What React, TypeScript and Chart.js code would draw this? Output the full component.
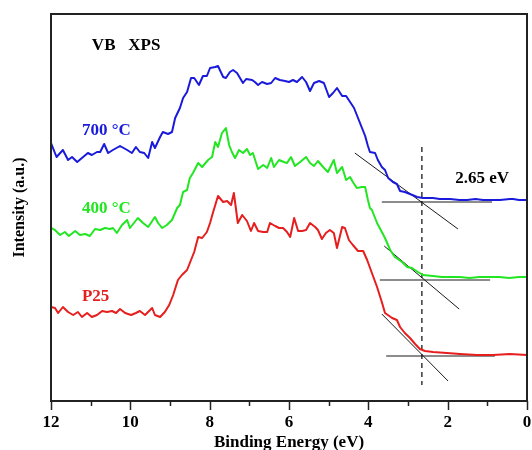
import React, { useEffect, useRef } from "react";
import { Chart, registerables } from "chart.js";

Chart.register(...registerables);

// ---- data (binding energy in eV, intensity in a.u.) ----
const energy700 = [12.0, 11.86, 11.7, 11.57, 11.47, 11.34, 11.22, 11.07, 10.97, 10.84, 10.76, 10.66, 10.56, 10.44, 10.26, 10.08, 9.96, 9.86, 9.76, 9.65, 9.55, 9.45, 9.38, 9.25, 9.18, 9.05, 8.95, 8.87, 8.75, 8.67, 8.57, 8.47, 8.39, 8.27, 8.17, 8.07, 7.99, 7.86, 7.79, 7.66, 7.59, 7.49, 7.41, 7.31, 7.16, 7.08, 6.93, 6.86, 6.78, 6.68, 6.55, 6.45, 6.35, 6.23, 6.1, 6.0, 5.9, 5.8, 5.67, 5.57, 5.47, 5.37, 5.24, 5.12, 4.99, 4.89, 4.79, 4.66, 4.56, 4.46, 4.36, 4.26, 4.16, 4.08, 4.01, 3.96, 3.83, 3.76, 3.66, 3.58, 3.5, 3.38, 3.28, 3.2, 3.08, 2.95, 2.77, 2.62, 2.37, 2.2, 1.94, 1.7, 1.51, 1.3, 1.11, 0.9, 0.68, 0.43, 0.35, 0.2, 0.0];
const intensity700 = [258, 244, 251, 241, 244, 239, 243, 248, 246, 249, 249, 257, 248, 251, 255, 251, 248, 254, 249, 248, 243, 259, 253, 264, 269, 267, 269, 283, 293, 303, 309, 323, 323, 316, 325, 325, 333, 334, 335, 324, 323, 329, 331, 328, 318, 322, 321, 319, 316, 319, 317, 318, 323, 321, 320, 319, 321, 319, 324, 319, 310, 318, 320, 318, 304, 308, 313, 305, 305, 299, 293, 283, 273, 265, 255, 249, 248, 241, 234, 231, 223, 219, 217, 210, 209, 207, 204, 203, 203, 202, 202, 201, 201, 202, 201, 201, 201, 202, 202, 201, 201];

const energy400 = [12.0, 11.9, 11.77, 11.65, 11.55, 11.39, 11.27, 11.14, 11.02, 10.89, 10.76, 10.64, 10.51, 10.44, 10.34, 10.21, 10.08, 10.01, 9.91, 9.81, 9.68, 9.55, 9.38, 9.3, 9.2, 9.08, 8.95, 8.82, 8.75, 8.67, 8.57, 8.5, 8.42, 8.29, 8.19, 8.04, 7.94, 7.86, 7.79, 7.69, 7.59, 7.51, 7.44, 7.36, 7.26, 7.16, 7.06, 6.98, 6.91, 6.78, 6.65, 6.55, 6.45, 6.38, 6.25, 6.13, 6.05, 5.95, 5.85, 5.72, 5.57, 5.47, 5.37, 5.27, 5.14, 5.02, 4.87, 4.79, 4.66, 4.56, 4.46, 4.39, 4.29, 4.16, 4.08, 4.01, 3.96, 3.91, 3.78, 3.66, 3.58, 3.45, 3.33, 3.15, 3.02, 2.9, 2.75, 2.62, 2.37, 2.15, 1.94, 1.7, 1.45, 1.2, 0.95, 0.7, 0.45, 0.2, 0.0];
const intensity400 = [173, 171, 166, 169, 165, 170, 166, 167, 165, 172, 171, 173, 172, 173, 168, 176, 181, 173, 178, 183, 178, 174, 184, 178, 173, 176, 181, 193, 196, 209, 211, 223, 228, 238, 234, 241, 244, 259, 254, 268, 273, 256, 249, 243, 251, 248, 252, 246, 248, 232, 236, 233, 243, 234, 241, 239, 238, 244, 235, 239, 244, 238, 235, 240, 234, 229, 241, 228, 234, 221, 224, 219, 213, 214, 214, 201, 193, 191, 178, 169, 163, 151, 144, 139, 134, 133, 129, 126, 125, 124, 124, 124, 123, 124, 124, 124, 123, 124, 124];

const energyP25 = [12.0, 11.9, 11.82, 11.7, 11.57, 11.44, 11.32, 11.22, 11.09, 10.97, 10.84, 10.71, 10.59, 10.46, 10.36, 10.26, 10.13, 9.98, 9.86, 9.76, 9.63, 9.45, 9.38, 9.25, 9.13, 9.02, 8.92, 8.8, 8.7, 8.57, 8.47, 8.39, 8.29, 8.19, 8.07, 7.99, 7.92, 7.79, 7.66, 7.56, 7.46, 7.39, 7.29, 7.18, 7.06, 6.96, 6.88, 6.78, 6.65, 6.55, 6.48, 6.35, 6.25, 6.15, 6.05, 5.97, 5.87, 5.77, 5.67, 5.57, 5.47, 5.34, 5.27, 5.17, 5.07, 4.97, 4.87, 4.79, 4.66, 4.59, 4.49, 4.39, 4.26, 4.13, 4.03, 3.91, 3.78, 3.66, 3.58, 3.4, 3.28, 3.2, 3.08, 2.95, 2.82, 2.7, 2.57, 2.37, 2.02, 1.69, 1.26, 0.86, 0.43, 0.0];
const intensityP25 = [94, 93, 88, 94, 89, 86, 89, 84, 88, 84, 86, 90, 89, 90, 88, 92, 88, 86, 88, 90, 86, 93, 86, 84, 89, 96, 106, 121, 126, 131, 141, 149, 164, 163, 169, 178, 188, 205, 199, 200, 196, 208, 178, 186, 180, 170, 178, 170, 169, 169, 178, 175, 173, 173, 169, 164, 183, 170, 170, 171, 178, 174, 171, 162, 168, 171, 168, 153, 174, 173, 161, 156, 150, 150, 141, 128, 114, 99, 88, 83, 81, 74, 68, 63, 57, 52, 50, 49, 48, 47, 46, 46, 47, 46];

// tangent / baseline construction lines: [x1, x2] and [y1, y2]
const tangent700X = [4.34, 1.74];
const tangent700Y = [248, 172];
const base700X = [3.66, 0.88];
const base700Y = [199, 199];
const tangent400X = [3.6, 1.71];
const tangent400Y = [155, 92];
const base400X = [3.71, 0.93];
const base400Y = [121, 121];
const tangentP25X = [3.66, 1.99];
const tangentP25Y = [87, 20];
const baseP25X = [3.55, 0.81];
const baseP25Y = [45, 45];
const edgeX = [2.65, 2.65];
const edgeY = [254, 16];

const xTickLabels = [0, 2, 4, 6, 8, 10, 12];

const annotations = [
  { text: "VB   XPS", x: 10.97, y: 355, color: "#000000" },
  { text: "700 °C", x: 11.22, y: 270, color: "#1a1adb" },
  { text: "400 °C", x: 11.22, y: 192, color: "#22e622" },
  { text: "P25", x: 11.22, y: 104, color: "#e61e1e" },
  { text: "2.65 eV", x: 1.81, y: 222, color: "#000000" },
];

const SERIF = '"Liberation Serif", "Times New Roman", serif';

const zip = (xs: number[], ys: number[]) => xs.map((x, i) => ({ x, y: ys[i] }));

const decorPlugin = {
  id: "decor",
  afterDatasetsDraw(chart: any) {
    const { ctx } = chart;
    const xs = chart.scales.x;
    const ys = chart.scales.y;
    ctx.save();
    ctx.font = `bold 17px ${SERIF}`;
    ctx.textAlign = "left";
    ctx.textBaseline = "middle";
    for (const a of annotations) {
      ctx.fillStyle = a.color;
      ctx.fillText(a.text, xs.getPixelForValue(a.x), ys.getPixelForValue(a.y));
    }
    ctx.restore();
  },
  afterDraw(chart: any) {
    const { ctx, chartArea } = chart;
    const xs = chart.scales.x;
    ctx.save();
    ctx.strokeStyle = "#222";
    ctx.lineWidth = 2;
    ctx.strokeRect(chartArea.left, chartArea.top, chartArea.right - chartArea.left, chartArea.bottom - chartArea.top);
    ctx.lineWidth = 1.5;
    for (let v = 0; v <= 12; v++) {
      const px = Math.round(xs.getPixelForValue(v)) + 0.5;
      const len = v % 2 === 0 ? 9 : 5;
      ctx.beginPath();
      ctx.moveTo(px, chartArea.bottom);
      ctx.lineTo(px, chartArea.bottom + len);
      ctx.stroke();
    }
    ctx.restore();
  },
};

export default function App() {
  const ref = useRef<HTMLCanvasElement | null>(null);
  useEffect(() => {
    document.body.style.margin = "0";
    const canvas = ref.current!;
    const thin = (xs: number[], ys: number[], dash?: number[]) => ({
      data: zip(xs, ys),
      borderColor: "#1a1a1a",
      borderWidth: 1,
      borderDash: dash || [],
      pointRadius: 0,
      fill: false,
    });
    const chart = new Chart(canvas, {
      type: "line",
      data: {
        datasets: [
          { label: "700 °C", data: zip(energy700, intensity700), borderColor: "#1a1adb", borderWidth: 2, pointRadius: 0, borderJoinStyle: "round" },
          { label: "400 °C", data: zip(energy400, intensity400), borderColor: "#22e622", borderWidth: 2, pointRadius: 0, borderJoinStyle: "round" },
          { label: "P25", data: zip(energyP25, intensityP25), borderColor: "#e61e1e", borderWidth: 2, pointRadius: 0, borderJoinStyle: "round" },
          thin(tangent700X, tangent700Y),
          thin(base700X, base700Y),
          thin(tangent400X, tangent400Y),
          thin(base400X, base400Y),
          thin(tangentP25X, tangentP25Y),
          thin(baseP25X, baseP25Y),
          { ...thin(edgeX, edgeY, [5, 4]), borderWidth: 1.3 },
        ] as any,
      },
      options: {
        animation: false,
        responsive: false,
        devicePixelRatio: 1,
        layout: { padding: { top: 14, right: 5, left: 0, bottom: 0 } },
        plugins: { legend: { display: false }, tooltip: { enabled: false } },
        scales: {
          x: {
            type: "linear",
            min: 0,
            max: 12,
            reverse: true,
            afterFit: (s: any) => { s.height = 49; },
            afterBuildTicks: (s: any) => { s.ticks = xTickLabels.map((v) => ({ value: v })); },
            ticks: {
              color: "#000",
              font: { family: SERIF, size: 17, weight: "bold" },
              padding: 3,
              maxRotation: 0,
              autoSkip: false,
            },
            grid: { display: true, drawOnChartArea: false, drawTicks: true, tickLength: 8, color: "rgba(0,0,0,0)" },
            border: { display: false },
            title: {
              display: true,
              text: "Binding Energy (eV)",
              color: "#000",
              font: { family: SERIF, size: 17, weight: "bold" },
              padding: { top: 0, bottom: -3 },
            },
          },
          y: {
            type: "linear",
            min: 0,
            max: 387,
            afterFit: (s: any) => { s.width = 51; },
            ticks: { display: false },
            grid: { display: false },
            border: { display: false },
            title: {
              display: true,
              text: "Intensity (a.u.)",
              color: "#000",
              font: { family: SERIF, size: 16, weight: "bold" },
              padding: { top: 10, bottom: 0 },
            },
          },
        },
      } as any,
      plugins: [decorPlugin],
    });
    return () => chart.destroy();
  }, []);
  return (
    <div style={{ width: 532, height: 450, background: "#fff" }}>
      <canvas ref={ref} width={532} height={450} style={{ display: "block" }} />
    </div>
  );
}
